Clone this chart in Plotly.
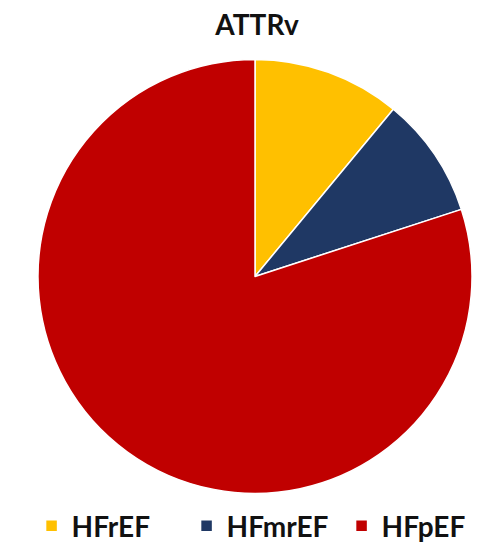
import plotly.graph_objects as go

labels = ["HFrEF", "HFmrEF", "HFpEF"]
values = [11, 9, 80]
colors = ["#FFC000", "#1F3864", "#C00000"]

W, H = 503, 551
cx, cy, r = 255, 279, 219

fig = go.Figure(go.Pie(
    labels=labels,
    values=values,
    sort=False,
    direction="clockwise",
    rotation=0,
    textinfo="none",
    hoverinfo="label+percent",
    marker=dict(colors=colors, line=dict(color="white", width=1.5)),
    domain=dict(x=[(cx - r) / W, (cx + r) / W], y=[1 - (cy + r) / H, 1 - (cy - r) / H]),
))

fig.update_layout(
    width=W, height=H,
    margin=dict(l=0, r=0, t=0, b=0),
    paper_bgcolor="white",
    title=dict(text="<b>ATTRv</b>", x=257 / W, xanchor="center", y=1 - 25 / H, yanchor="middle",
               font=dict(family="Lato", size=28, color="#111111")),
    legend=dict(orientation="h", x=0.525, xanchor="center", y=1 - 531 / H, yanchor="middle",
                font=dict(family="Lato", size=28, color="#111111", weight="bold"),
                itemwidth=30, entrywidth=110, entrywidthmode="pixels"),
    showlegend=True,
)

fig.write_html("out.html")
